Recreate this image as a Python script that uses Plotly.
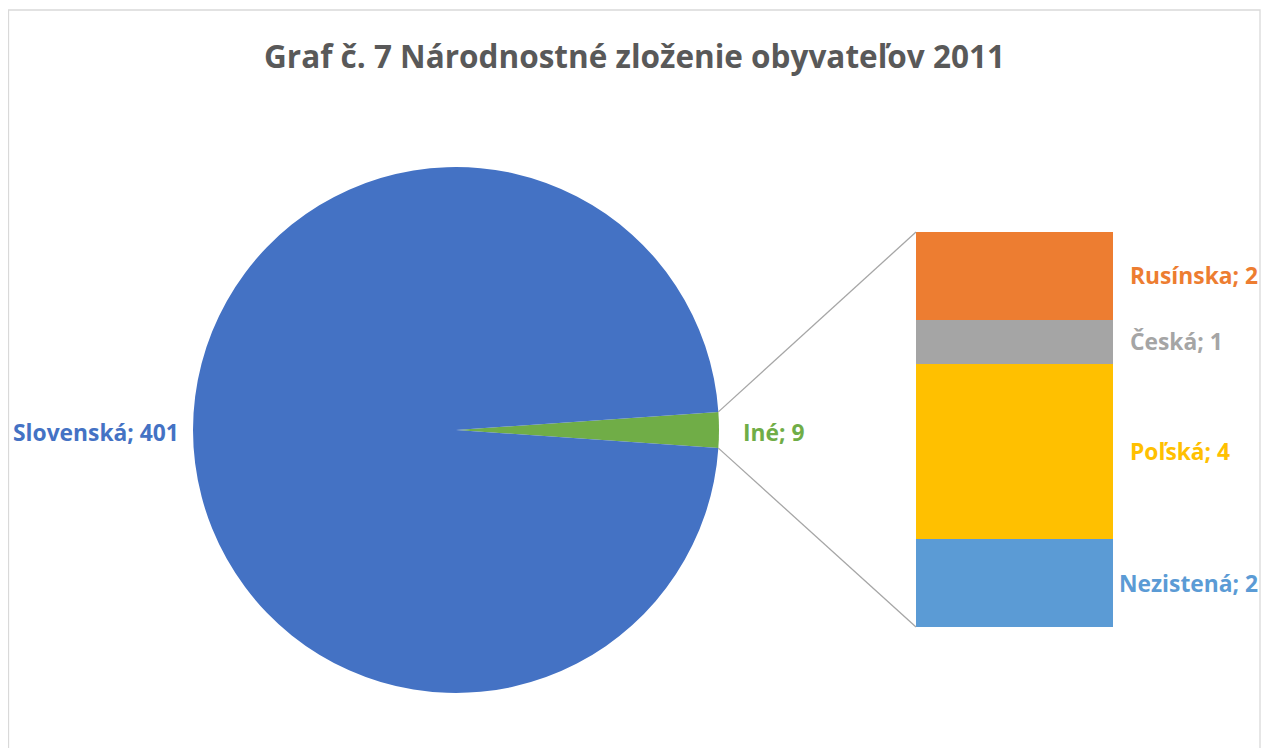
import math
import plotly.graph_objects as go

# main pie
pie_labels = ["Iné", "Slovenská"]
pie_values = [9, 401]
pie_colors = ["#70AD47", "#4472C4"]

# breakdown of "Iné" (bottom to top)
bar_labels = ["Nezistená", "Poľská", "Česká", "Rusínska"]
bar_values = [2, 4, 1, 2]
bar_colors = ["#5B9BD5", "#FFC000", "#A5A5A5", "#ED7D31"]

title = "Graf č. 7 Národnostné zloženie obyvateľov 2011"

# page body has an 8px margin, so the plot div is 1253x740
W, H, OFF = 1253, 740, 8
FONT = "Open Sans"


def fx(px):
    return (px - OFF) / W


def fy(py):
    return 1 - (py - OFF) / H


# pie placement in screen pixels (center, radius)
cx, cy, r = 456, 430, 263
# bar placement in screen pixels
bx0, bx1, by_top, by_bot = 916, 1113, 232, 627

total = sum(pie_values)
half = math.pi * pie_values[0] / total  # half angle of the "Iné" slice

fig = go.Figure()

fig.add_trace(go.Pie(
    labels=pie_labels, values=pie_values, sort=False,
    direction="clockwise", rotation=90 - math.degrees(half),
    marker=dict(colors=pie_colors), textinfo="none",
    hoverinfo="label+value", showlegend=False,
    domain=dict(x=[fx(cx - r), fx(cx + r)], y=[fy(cy + r), fy(cy - r)]),
))

for lab, val, col in zip(bar_labels, bar_values, bar_colors):
    fig.add_trace(go.Bar(
        x=[0], y=[val], name=lab, marker=dict(color=col, line=dict(width=0)),
        width=1, showlegend=False, hoverinfo="name+y",
    ))

shapes = []
# connector lines from slice edge to bar corners
ex = cx + r * math.cos(half)
for sgn, ty in [(-1, by_top), (1, by_bot)]:
    ey = cy + sgn * r * math.sin(half)
    shapes.append(dict(
        type="line", xref="paper", yref="paper",
        x0=fx(ex), y0=fy(ey), x1=fx(bx0), y1=fy(ty),
        line=dict(color="#A6A6A6", width=1.3),
    ))
# chart border
shapes.append(dict(
    type="rect", xref="paper", yref="paper",
    x0=fx(8.5), y0=-0.05, x1=fx(1260), y1=fy(10),
    line=dict(color="#D9D9D9", width=1.3),
))

LBL = 22.8
annotations = [
    dict(text="<b>Slovenská; %d</b>" % pie_values[1], xref="paper", yref="paper",
         x=fx(181), y=fy(432), xanchor="right", yanchor="middle",
         showarrow=False, font=dict(color=pie_colors[1], size=LBL, family=FONT)),
    dict(text="<b>Iné; %d</b>" % pie_values[0], xref="paper", yref="paper",
         x=fx(741), y=fy(432), xanchor="left", yanchor="middle",
         showarrow=False, font=dict(color=pie_colors[0], size=LBL, family=FONT)),
]
label_x = {"Nezistená": 1117}
cum = 0
for lab, val, col in zip(bar_labels, bar_values, bar_colors):
    mid = cum + val / 2
    cum += val
    annotations.append(dict(
        text="<b>%s; %d</b>" % (lab, val), xref="paper", yref="y",
        x=fx(label_x.get(lab, 1128)), y=mid, xanchor="left", yanchor="middle",
        showarrow=False, font=dict(color=col, size=LBL, family=FONT),
    ))

fig.update_layout(
    barmode="stack",
    margin=dict(l=0, r=0, t=0, b=0),
    paper_bgcolor="white", plot_bgcolor="white",
    xaxis=dict(domain=[fx(bx0), fx(bx1)], range=[-0.5, 0.5], visible=False, fixedrange=True),
    yaxis=dict(domain=[fy(by_bot), fy(by_top)], range=[0, sum(bar_values)],
               visible=False, fixedrange=True),
    title=dict(text="<b>%s</b>" % title, x=0.5, xanchor="center", y=fy(57),
               yanchor="middle", font=dict(size=31.5, color="#595959", family=FONT)),
    shapes=shapes, annotations=annotations,
)

fig.write_html("out.html")
